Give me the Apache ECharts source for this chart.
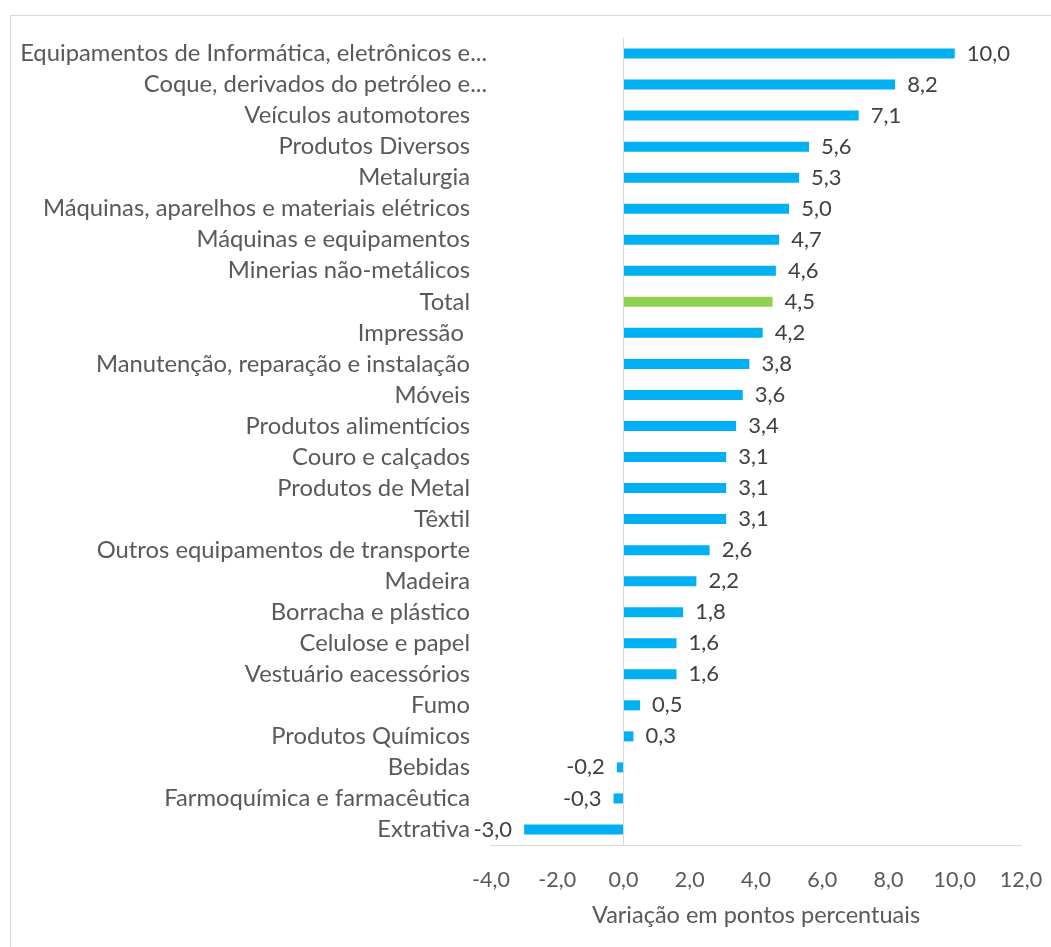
<!DOCTYPE html>
<html>
<head>
<meta charset="utf-8">
<script src="https://cdn.jsdelivr.net/npm/echarts@6/dist/echarts.min.js"></script>
<style>
  html, body { margin: 0; padding: 0; background: #fff; }
  #chart { width: 1051px; height: 947px; }
</style>
</head>
<body>
<div id="chart"></div>
<script>
// Sectors, top to bottom
const categories = [
  'Equipamentos de Informática, eletrônicos e...',
  'Coque, derivados do petróleo e...',
  'Veículos automotores',
  'Produtos Diversos',
  'Metalurgia',
  'Máquinas, aparelhos e materiais elétricos',
  'Máquinas e equipamentos',
  'Minerias não-metálicos',
  'Total',
  'Impressão ',
  'Manutenção, reparação e instalação',
  'Móveis',
  'Produtos alimentícios',
  'Couro e calçados',
  'Produtos de Metal',
  'Têxtil',
  'Outros equipamentos de transporte',
  'Madeira',
  'Borracha e plástico',
  'Celulose e papel',
  'Vestuário eacessórios',
  'Fumo',
  'Produtos Químicos',
  'Bebidas',
  'Farmoquímica e farmacêutica',
  'Extrativa'
];

// Change in percentage points
const values = [10.0, 8.2, 7.1, 5.6, 5.3, 5.0, 4.7, 4.6, 4.5, 4.2, 3.8, 3.6, 3.4, 3.1, 3.1, 3.1, 2.6, 2.2, 1.8, 1.6, 1.6, 0.5, 0.3, -0.2, -0.3, -3.0];

const axisMin = -4, axisMax = 12, axisStep = 2;
const axisTitle = 'Variação em pontos percentuais';
const highlightCategory = 'Total';

const BLUE = '#00B0F0', GREEN = '#92D050';
const FONT = 'Lato';
const CAT_SIZE = 23.8;
const fmt = v => Number(v).toFixed(1).replace('.', ',');

const seriesData = values.map((v, i) => ({
  value: v,
  itemStyle: { color: categories[i] === highlightCategory ? GREEN : BLUE },
  label: { position: v < 0 ? 'left' : 'right' }
}));

const chart = echarts.init(document.getElementById('chart'));
chart.setOption({
  backgroundColor: '#fff',
  animation: false,
  graphic: [{
    type: 'rect',
    left: 8, top: 13,
    shape: { width: 1200, height: 1100 },
    style: { fill: 'none', stroke: '#d9d9d9', lineWidth: 1 },
    silent: true
  }],
  grid: { left: 491, right: 30, top: 38, bottom: 102, containLabel: false },
  xAxis: {
    type: 'value',
    min: axisMin, max: axisMax, interval: axisStep,
    splitLine: { show: false },
    axisTick: { show: false },
    axisLine: { show: true, lineStyle: { color: '#d9d9d9', width: 1 } },
    axisLabel: {
      formatter: fmt, color: '#595959', fontFamily: FONT, fontSize: 21.5, margin: 24
    },
    name: axisTitle,
    nameLocation: 'middle',
    nameGap: 58,
    nameTextStyle: { color: '#595959', fontFamily: FONT, fontSize: 23.5 }
  },
  yAxis: {
    type: 'category',
    data: categories,
    inverse: true,
    axisLine: { show: false, onZero: false },
    axisTick: { show: false },
    axisLabel: {
      interval: 0,
      hideOverlap: false,
      color: '#595959', fontFamily: FONT, fontSize: CAT_SIZE, margin: 4,
      formatter: v => /\.\.\.$/.test(v) ? '{t|' + v + '}' : '{n|' + v + '}',
      rich: {
        n: { color: '#595959', fontFamily: FONT, fontSize: CAT_SIZE, padding: [0, 17, 0, 0] },
        t: { color: '#595959', fontFamily: FONT, fontSize: CAT_SIZE, padding: [0, 0, 0, 0] }
      }
    }
  },
  series: [{
    type: 'bar',
    data: seriesData,
    barWidth: 10,
    label: {
      show: true,
      formatter: p => fmt(p.value),
      color: '#404040', fontFamily: FONT, fontSize: 22, distance: 12
    },
    markLine: {
      silent: true,
      symbol: 'none',
      label: { show: false },
      lineStyle: { color: '#d9d9d9', type: 'solid', width: 1 },
      data: [{ xAxis: 0 }]
    }
  }]
});
</script>
</body>
</html>
